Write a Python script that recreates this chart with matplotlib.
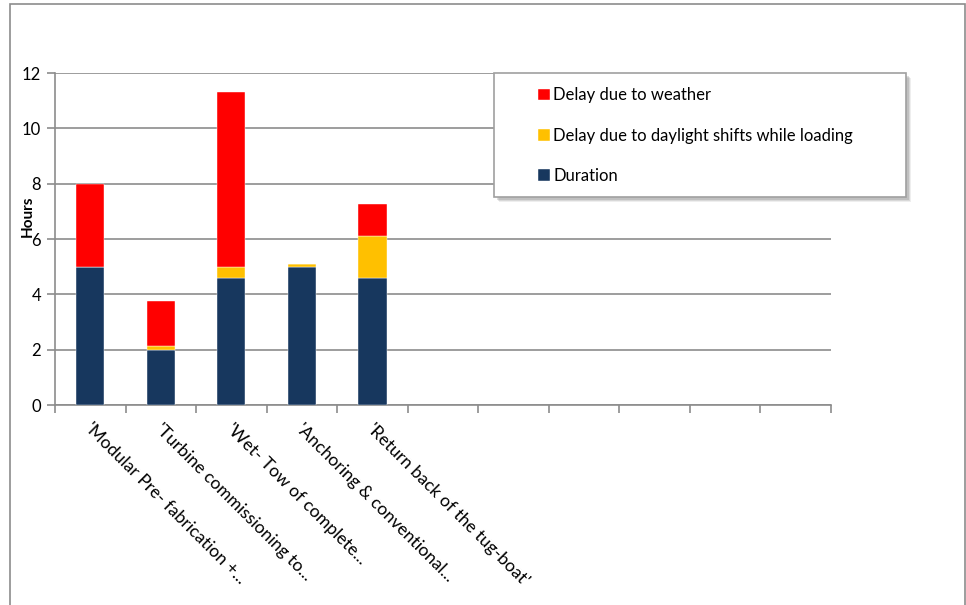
import matplotlib
matplotlib.use("Agg")
import matplotlib.pyplot as plt
from matplotlib.patches import Rectangle
import numpy as np

plt.rcParams['font.family'] = ['Lato', 'DejaVu Sans']

categories = [
    "'Modular Pre- fabrication +...",
    "'Turbine commissioning to...",
    "'Wet- Tow of complete...",
    "'Anchoring & conventional...",
    "'Return back of the tug-boat'",
]
n_slots = 11  # category slots on the axis (only the first five carry data)

duration = [5.0, 2.0, 4.6, 5.0, 4.6]
daylight_delay = [0.0, 0.15, 0.4, 0.1, 1.5]
weather_delay = [3.0, 1.62, 6.3, 0.0, 1.15]

series_names = ["Duration", "Delay due to daylight shifts while loading", "Delay due to weather"]
colors = ["#17375E", "#FFC000", "#FF0000"]

W, H = 966, 605
fig = plt.figure(figsize=(W / 100, H / 100), dpi=100)

# outer chart frame
fig.patches.append(Rectangle((10 / W, -0.01), 955 / W, 1 - 4 / H + 0.01,
                             transform=fig.transFigure, fill=False,
                             edgecolor="#8C8C8C", linewidth=1.2, zorder=0))

ax = fig.add_axes([55 / W, 1 - 405 / H, (831 - 55) / W, (405 - 73) / H])

x = np.arange(len(categories))
bw = 0.40
d = np.array(duration)
dl = np.array(daylight_delay)
wd = np.array(weather_delay)
b1 = ax.bar(x, d, bw, color=colors[0], zorder=3, edgecolor="white", linewidth=0.3)
b2 = ax.bar(x, dl, bw, bottom=d, color=colors[1], zorder=3, edgecolor="white", linewidth=0.3)
b3 = ax.bar(x, wd, bw, bottom=d + dl, color=colors[2], zorder=3, edgecolor="white", linewidth=0.3)

ax.set_xlim(-0.5, n_slots - 0.5)
ax.set_ylim(0, 12)
ax.set_yticks(np.arange(0, 13, 2))
ax.yaxis.grid(True, color="#8C8C8C", linewidth=1.2, zorder=0)
ax.set_axisbelow(True)

for s in ["top", "right"]:
    ax.spines[s].set_visible(False)
for s in ["left", "bottom"]:
    ax.spines[s].set_color("#8C8C8C")
    ax.spines[s].set_linewidth(1.2)

ax.tick_params(axis="y", length=6, width=1.2, color="#8C8C8C", labelsize=12,
               labelcolor="black", pad=4)

# tick marks at category boundaries, labels at category centres
ax.set_xticks(np.arange(-0.5, n_slots, 1.0), minor=True)
ax.set_xticks(x)
ax.set_xticklabels([])
ax.tick_params(axis="x", which="major", length=0)
ax.tick_params(axis="x", which="minor", length=6, width=1.2, color="#8C8C8C")

for xi, lab in zip(x, categories):
    ax.text(xi + 0.04, -0.55, lab, rotation=-45, rotation_mode="anchor",
            ha="left", va="top", fontsize=12.6, transform=ax.transData,
            clip_on=False)

ax.set_ylabel("Hours", fontsize=11, fontweight="bold")
ax.yaxis.set_label_coords(-0.026, 0.57)

# legend box with drop shadow
lx0, ly0, lx1, ly1 = 494, 73, 906, 197
for k, a in [(5, 0.10), (4, 0.15), (3, 0.2)]:
    fig.patches.append(Rectangle(((lx0 + k) / W, 1 - (ly1 + k) / H), (lx1 - lx0) / W, (ly1 - ly0) / H,
                                 transform=fig.transFigure, facecolor="#606060", alpha=a,
                                 edgecolor="none", zorder=4))
fig.patches.append(Rectangle((lx0 / W, 1 - ly1 / H), (lx1 - lx0) / W, (ly1 - ly0) / H,
                             transform=fig.transFigure, facecolor="white",
                             edgecolor="#A0A0A0", linewidth=1.2, zorder=5))

handles = [b3, b2, b1]
labels = [series_names[2], series_names[1], series_names[0]]
leg = fig.legend(handles, labels, loc="upper left",
                 bbox_to_anchor=(530 / W, 1 - 79 / H), frameon=False,
                 fontsize=12, handlelength=0.7, handleheight=0.7,
                 handletextpad=0.2, labelspacing=1.45, borderpad=0)
leg.set_zorder(6)

fig.savefig("out.png", dpi=100)
